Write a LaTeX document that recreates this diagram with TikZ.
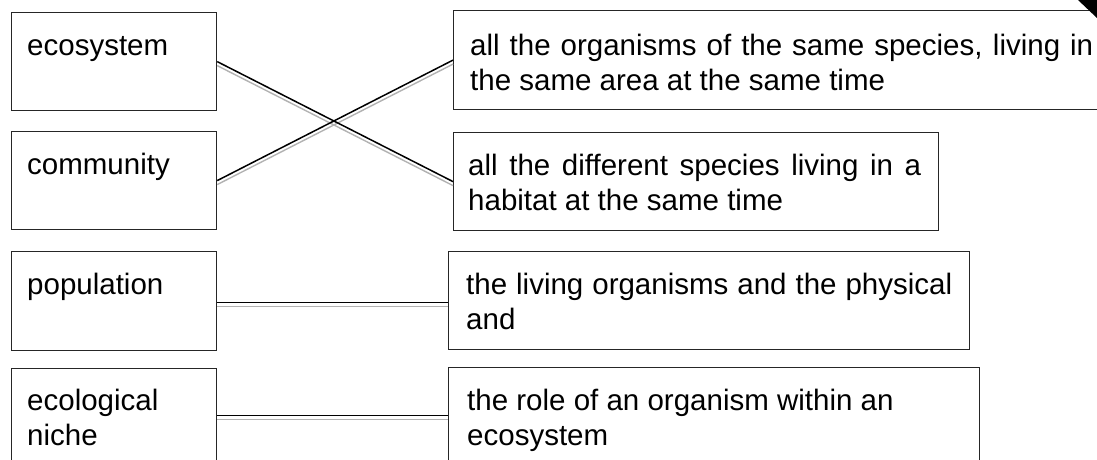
\documentclass[tikz,border=0pt]{standalone}
\usepackage{fontspec}
\setmainfont{Liberation Sans}
\newcommand\TwoL[2]{\vtop{\hbox{#1}\hbox{#2}}}
\begin{document}
\begin{tikzpicture}[x=1pt,y=-1pt,
  box/.style={draw=black!85,line width=1.2pt,inner sep=0,anchor=north west},
  lbl/.style={anchor=base west,inner sep=0,font=\fontsize{29.5pt}{35pt}\selectfont},
  link/.style={line width=1.5pt,black},
  shade/.style={line width=1.4pt,black!30}]
\useasboundingbox (0,0) rectangle (1097,459);
\clip (0,0) rectangle (1097,459);
% left boxes
\node[box,minimum width=205pt,minimum height=98pt] (eco) at (11,12) {};
\node[box,minimum width=205pt,minimum height=98pt] (comm) at (11,131) {};
\node[box,minimum width=205pt,minimum height=99pt] (pop) at (11,251) {};
\node[box,minimum width=205pt,minimum height=94pt] (niche) at (11,368) {};
% right boxes
\node[box,minimum width=660pt,minimum height=99pt] (r1) at (453,10) {};
\node[box,minimum width=485pt,minimum height=98pt] (r2) at (453,132) {};
\node[box,minimum width=521pt,minimum height=98pt] (r3) at (448,251) {};
\node[box,minimum width=531pt,minimum height=94pt] (r4) at (448,367) {};
% texts
\node[lbl] (teco) at (27,55) {ecosystem};
\node[lbl] (tcomm) at (27,174) {community};
\node[lbl] (tpop) at (27,294) {population};
\node[lbl] (tniche) at (27,410) {\TwoL{ecological}{niche}};
\node[lbl] (tr1) at (470,55) {\TwoL{\makebox[623pt][s]{all the organisms of the same species, living in}}{the same area at the same time}};
\node[lbl] (tr2) at (468,175) {\TwoL{\makebox[453pt][s]{all the different species living in a}}{habitat at the same time}};
\node[lbl] (tr3) at (466,294) {\TwoL{\makebox[486pt][s]{the living organisms and the physical}}{and}};
\node[lbl] (tr4) at (467,410) {\TwoL{the role of an organism within an}{ecosystem}};
% connectors
\draw[shade] ([yshift=-4pt]eco.east) -- ([yshift=-4pt]r2.west);
\draw[shade] ([yshift=-4pt]comm.east) -- ([yshift=-4pt]r1.west);
\draw[link] (eco.east) -- (r2.west);
\draw[link] (comm.east) -- (r1.west);
\draw[shade] ([yshift=-5.5pt]pop.east) -- ([yshift=-5.5pt]pop.east -| r3.west);
\draw[link] ([yshift=-1.5pt]pop.east) -- ([yshift=-1.5pt]pop.east -| r3.west);
\draw[shade] ([yshift=-4pt]niche.east) -- ([yshift=-4pt]niche.east -| r4.west);
\draw[link] (niche.east) -- (niche.east -| r4.west);
% corner mark
\fill[black] (1078,0) -- (1097,0) -- (1097,18) -- cycle;
\end{tikzpicture}
\end{document}
